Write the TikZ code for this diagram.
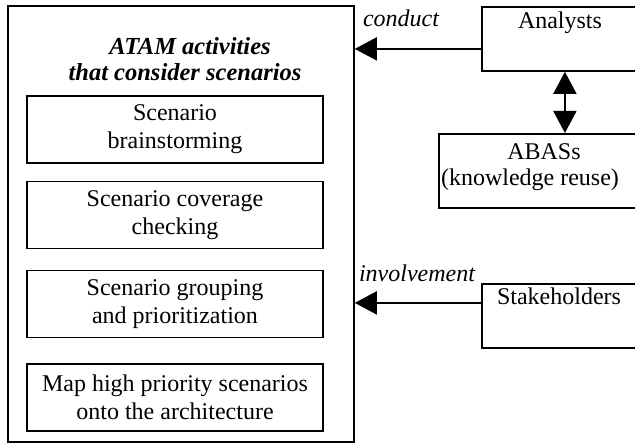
\documentclass[tikz,border=0pt]{standalone}
\usepackage{fontspec}
\setmainfont{Liberation Serif}
\usetikzlibrary{arrows.meta,calc}
\begin{document}
\begin{tikzpicture}[x=1pt,y=-1pt,
  txt/.style={font=\fontsize{24}{28}\selectfont, inner sep=0pt},
  box/.style={draw, line width=1.8pt, inner sep=0pt},
  actbox/.style={box, txt, align=center, minimum width=296pt, minimum height=67pt},
  lbl/.style={txt, font=\fontsize{24}{28}\selectfont\itshape, anchor=base},
  arr/.style={line width=1.8pt, -{Triangle[length=22pt,width=23pt]}},
  darr/.style={line width=1.8pt, {Triangle[length=22pt,width=23pt]}-{Triangle[length=22pt,width=23pt]}}]
\useasboundingbox (0,0) rectangle (635,446);
\clip (0,0) rectangle (635,446);
% outer box
\node[box, minimum width=346pt, minimum height=436pt, anchor=north west] (outer) at (7,5) {};
\node[txt, font=\fontsize{24.5}{28}\selectfont\bfseries\itshape, anchor=base] (t1) at (190,55) {ATAM activities};
\node[txt, font=\fontsize{24.5}{28}\selectfont\bfseries\itshape, anchor=base] (t2) at (185,81) {that consider scenarios};
% activity boxes
\node[actbox] (a1) at (175,129.5) {Scenario\\brainstorming};
\node[actbox] (a2) at (175,215) {Scenario coverage\\checking};
\node[actbox] (a3) at (175,304) {Scenario grouping\\and prioritization};
\node[actbox] (a4) at (175,397.5) {Map high priority scenarios\\onto the architecture};
% right boxes
\node[box, minimum width=166pt, minimum height=64pt, anchor=north west] (an) at (481,6) {};
\node[txt, anchor=base] (antext) at (560,29) {Analysts};
\node[box, minimum width=252pt, minimum height=74pt, anchor=north west] (ab) at (438,133) {};
\node[txt, anchor=base] (abtext1) at (544,160) {ABASs};
\node[txt, anchor=base] (abtext2) at (530,186) {(knowledge reuse)};
\node[box, minimum width=166pt, minimum height=64pt, anchor=north west] (st) at (481,283) {};
\node[txt, anchor=base] (sttext) at (559,305) {Stakeholders};
% connectors
\coordinate (c1) at ($(an.west)+(0,10)$);
\draw[arr] (c1) -- (c1 -| outer.east);
\node[lbl] (conduct) at (401,27) {conduct};
\coordinate (c2) at ($(st.west)+(0,-13)$);
\draw[arr] (c2) -- (c2 -| outer.east);
\node[lbl] (involvement) at (417,282) {involvement};
\draw[darr] (an.south) -- (an.south |- ab.north);
\end{tikzpicture}
\end{document}
